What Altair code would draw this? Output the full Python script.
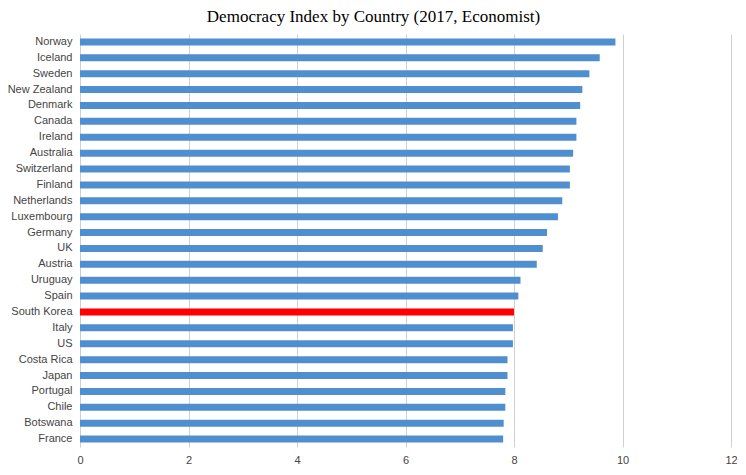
import altair as alt
import pandas as pd

countries = ["Norway", "Iceland", "Sweden", "New Zealand", "Denmark", "Canada", "Ireland",
             "Australia", "Switzerland", "Finland", "Netherlands", "Luxembourg", "Germany",
             "UK", "Austria", "Uruguay", "Spain", "South Korea", "Italy", "US", "Costa Rica",
             "Japan", "Portugal", "Chile", "Botswana", "France"]
scores = [9.87, 9.58, 9.39, 9.26, 9.22, 9.15, 9.15, 9.09, 9.03, 9.03, 8.89, 8.81, 8.61,
          8.53, 8.42, 8.12, 8.08, 8.00, 7.98, 7.98, 7.88, 7.88, 7.84, 7.84, 7.81, 7.80]
highlight = "South Korea"
x_ticks = [0, 2, 4, 6, 8, 10, 12]

df = pd.DataFrame({"country": countries, "score": scores})
df["hl"] = df["country"].apply(lambda c: "yes" if c == highlight else "no")

chart = alt.Chart(df).mark_bar().encode(
    y=alt.Y("country:N", sort=countries, title=None,
            scale=alt.Scale(paddingInner=0.56, paddingOuter=0.28),
            axis=alt.Axis(ticks=False, domain=False, labelPadding=8, labelFontSize=11,
                          labelFont="Liberation Sans", labelColor="#444444", grid=False)),
    x=alt.X("score:Q", title=None,
            scale=alt.Scale(domain=[0, 12], nice=False),
            axis=alt.Axis(values=x_ticks, ticks=False, domain=False, labelPadding=7,
                          labelFlush=False,
                          labelFontSize=11, labelFont="Liberation Sans", labelColor="#444444",
                          grid=True, gridColor="#d0d0d0", gridWidth=1)),
    color=alt.Color("hl:N", scale=alt.Scale(domain=["no", "yes"], range=["#4f8fcf", "#ff0000"]),
                    legend=None),
).properties(
    width=651,
    height=413,
    title=alt.TitleParams("Democracy Index by Country (2017, Economist)", font="Liberation Serif",
                          fontSize=17, fontWeight="normal", color="#000000", anchor="middle",
                          offset=8, dx=-32),
    autosize=alt.AutoSizeParams(type="none"),
    padding={"left": 72, "top": 26, "right": 6, "bottom": 20},
).configure_view(stroke=None)

chart.save("out.html", embed_options={"renderer": "svg", "actions": False})
